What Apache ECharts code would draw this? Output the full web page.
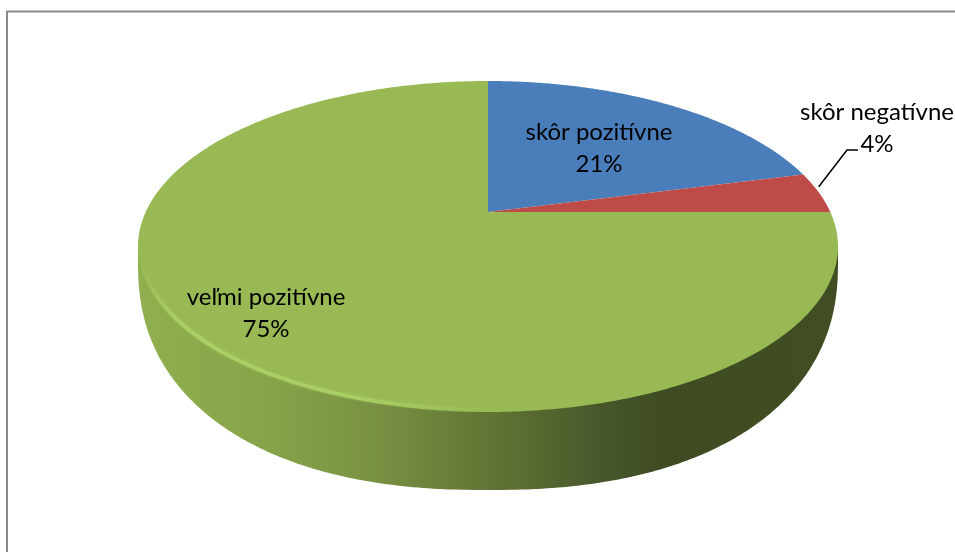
<!DOCTYPE html>
<html>
<head>
<meta charset="utf-8">
<style>html,body{margin:0;padding:0;background:#fff}#c{width:955px;height:552px}</style>
<script src="https://cdn.jsdelivr.net/npm/echarts@6/dist/echarts.min.js"></script>
</head>
<body>
<div id="c"></div>
<script>
var categories = ['skôr pozitívne', 'skôr negatívne', 'veľmi pozitívne'];
var values = [21, 4, 75];
var colors = ['#4a7ebb', '#be4b48', '#98b954'];

var total = values.reduce(function (a, b) { return a + b; }, 0);
var geo = { x: 488, y: 212, k: 0.2085, A: 342.3, B: 158.3, cy: 246.5 };
var base = { x: 488, y: 262, rx: 350, ry: 228, p: 2.3 };
var labelPos = [[599, 132], [877, 112], [266, 297]];
var lineGap = 32;

function rim(t) {
  var a = 2 * Math.PI * t, u = Math.sin(a), v = Math.cos(a), w = 1 + geo.k * v;
  return [geo.x + geo.A * u / w, geo.y - geo.B * v / w];
}
function arcPts(t0, t1) {
  var n = Math.max(4, Math.ceil(Math.abs(t1 - t0) * 720)), pts = [];
  for (var i = 0; i <= n; i++) pts.push(rim(t0 + (t1 - t0) * i / n));
  return pts;
}
function inset(pts, d) {
  return pts.map(function (p) {
    var f = d / Math.hypot(p[0] - geo.x, p[1] - geo.cy);
    return [p[0] - (p[0] - geo.x) * f, p[1] - (p[1] - geo.cy) * f];
  });
}
function text(str, x, y) {
  return { type: 'text', z2: 20, style: { text: str, x: x, y: y, fill: '#000', align: 'center', verticalAlign: 'middle',
    font: '24px Lato, "Open Sans", sans-serif' } };
}

var starts = [], acc = 0;
values.forEach(function (v) { starts.push(acc / total); acc += v; });

function renderDepth() {
  var pts = [[base.x + base.rx, geo.cy]];
  for (var i = 0; i <= 240; i++) {
    var a = Math.PI * i / 240, c = Math.cos(a), s = Math.sin(a);
    pts.push([
      base.x + base.rx * (c < 0 ? -1 : 1) * Math.pow(Math.abs(c), 2 / base.p),
      base.y + base.ry * Math.pow(s, 2 / base.p)
    ]);
  }
  pts.push([base.x - base.rx, geo.cy]);
  return {
    type: 'polygon', shape: { points: pts },
    style: { fill: new echarts.graphic.LinearGradient(0, 0, 1, 0, [
      { offset: 0, color: '#90af4f' }, { offset: 0.18, color: '#87a449' },
      { offset: 0.33, color: '#7a9243' }, { offset: 0.52, color: '#5f7233' },
      { offset: 0.67, color: '#46552a' }, { offset: 0.76, color: '#3f4b22' }, { offset: 1, color: '#414d22' }
    ]) }
  };
}

function renderSlice(params, api) {
  var i = params.dataIndex, t0 = starts[i], t1 = t0 + api.value(0) / total;
  var pts = [[geo.x, geo.y]].concat(arcPts(t0, t1));
  var children = [{ type: 'polygon', shape: { points: pts }, style: { fill: colors[i] } }];
  if (i === 2) {
    children.push({
      type: 'polyline', z2: 5, shape: { points: inset(arcPts(0.50, 0.695), 2.5) },
      style: { fill: null, lineWidth: 3.5, shadowBlur: 3, shadowColor: 'rgba(175,214,105,0.8)',
        stroke: new echarts.graphic.LinearGradient(0, 0, 1, 0, [
          { offset: 0, color: 'rgba(172,210,102,0)' }, { offset: 0.12, color: 'rgba(172,210,102,0.85)' },
          { offset: 0.6, color: 'rgba(172,210,102,0.7)' }, { offset: 1, color: 'rgba(172,210,102,0)' }
        ]) }
    });
  }
  var pct = Math.round(api.value(0) / total * 100) + '%';
  var p = labelPos[i];
  children.push(text(categories[i], p[0], p[1]));
  children.push(text(pct, p[0], p[1] + lineGap));
  if (i === 1) {
    var mid = rim(t0 + (t1 - t0) * 0.42);
    children.push({ type: 'polyline', z2: 10, shape: { points: [[mid[0] + 2, mid[1] - 3], [847, 150], [858, 150]] },
      style: { fill: null, stroke: '#000', lineWidth: 1.5 } });
  }
  return { type: 'group', children: children };
}

var chart = echarts.init(document.getElementById('c'), null, { renderer: 'canvas' });
chart.setOption({
  animation: false,
  backgroundColor: '#fff',
  graphic: [{ type: 'polyline', z: 0, shape: { points: [[7, 552], [7, 11.5], [955, 11.5]] },
    style: { fill: null, stroke: '#8a8a8a', lineWidth: 2 } }],
  series: [
    { type: 'custom', coordinateSystem: 'none', z: 1, silent: true, data: [[total]], renderItem: renderDepth },
    { type: 'custom', coordinateSystem: 'none', z: 2, silent: true,
      data: values.map(function (v, i) { return { name: categories[i], value: [v] }; }), renderItem: renderSlice }
  ]
});
</script>
</body>
</html>
